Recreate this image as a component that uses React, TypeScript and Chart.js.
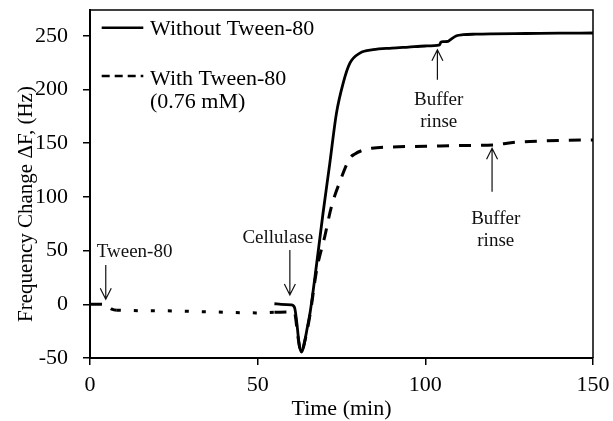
import React, { useEffect, useRef } from "react";
import { Chart, registerables } from "chart.js";

Chart.register(...registerables);

// Series: Without Tween-80 (solid)
const withoutTimes = [55, 57, 60, 61, 61.7, 62.4, 63.1, 63.8, 64.6, 65.6, 67.6, 69.5, 71.5, 73.5, 75.5, 77.5, 80.5, 84.4, 90, 95, 100, 104.3, 104.6, 105.3, 106.8, 107.5, 109.3, 111.3, 115, 120, 130, 140, 150];
const withoutValues = [0.5, 0, -0.5, -3, -18, -38, -44.5, -38, -25, -8.4, 38, 85, 131, 178, 206, 224.5, 233.9, 237, 238.5, 239.5, 240.5, 241.6, 244, 244.6, 244.8, 246.5, 250, 251, 251.5, 251.8, 252.1, 252.4, 252.6];

// Series: With Tween-80 (0.76 mM) (dashed)
const withTimes = [0, 3, 5, 6.5, 8, 20, 35, 50, 55, 60, 61, 62, 63, 64, 65.6, 67.6, 70, 72, 74.5, 77.5, 79, 81, 84, 90, 100, 110, 120.2, 127, 135, 142, 150];
const withValues = [0, 0, -1, -4.5, -5.5, -6, -7, -8, -7.5, -7, -8, -30, -45, -35, -10, 32, 63, 91, 114, 136, 140, 143, 145.3, 146.5, 147.1, 147.8, 148.4, 150.9, 152.1, 152.7, 153];

const xTicks = [0, 50, 100, 150];
const yTicks = [-50, 0, 50, 100, 150, 200, 250];
const seriesNames = ["Without Tween-80", "With Tween-80"];
const seriesNote = "(0.76 mM)";
const xTitle = "Time (min)";
const yTitle = "Frequency Change ΔF, (Hz)";

// Annotations in data coordinates
const annotations = [
  { lines: ["Tween-80"], textX: 13.3, textY: [43.8], arrowX: 4.7, tailY: 36.6, tipY: 4.7 },
  { lines: ["Cellulase"], textX: 56, textY: [56.8], arrowX: 59.6, tailY: 50.6, tipY: 8.7 },
  { lines: ["Buffer", "rinse"], textX: 104, textY: [185.7, 164.9], arrowX: 103.6, tailY: 209, tipY: 237 },
  { lines: ["Buffer", "rinse"], textX: 121, textY: [74.5, 54.3], arrowX: 119.9, tailY: 104.9, tipY: 145.3 },
];

const FONT = '"Liberation Serif", "Times New Roman", serif';

const overlay = {
  id: "overlay",
  afterDraw(chart: any) {
    const { ctx, chartArea: a, scales } = chart;
    const x = scales.x;
    const y = scales.y;
    ctx.save();
    // frame (top & right)
    ctx.strokeStyle = "#000";
    ctx.lineWidth = 1.5;
    ctx.setLineDash([]);
    ctx.beginPath();
    ctx.moveTo(a.left, a.top);
    ctx.lineTo(a.right, a.top);
    ctx.lineTo(a.right, a.bottom);
    ctx.stroke();

    // annotations
    ctx.fillStyle = "#111";
    ctx.font = `19px ${FONT}`;
    ctx.textAlign = "center";
    ctx.textBaseline = "alphabetic";
    for (const an of annotations) {
      an.lines.forEach((t, i) => {
        ctx.fillText(t, x.getPixelForValue(an.textX), y.getPixelForValue(an.textY[i]));
      });
      const ax = x.getPixelForValue(an.arrowX);
      const ty = y.getPixelForValue(an.tailY);
      const py = y.getPixelForValue(an.tipY);
      const dir = Math.sign(py - ty);
      ctx.lineWidth = 1.2;
      ctx.strokeStyle = "#111";
      ctx.beginPath();
      ctx.moveTo(ax, ty);
      ctx.lineTo(ax, py);
      ctx.moveTo(ax - 5.5, py - dir * 11);
      ctx.lineTo(ax, py);
      ctx.lineTo(ax + 5.5, py - dir * 11);
      ctx.stroke();
    }

    // legend
    const lx0 = a.left + 11.7;
    const lx1 = a.left + 53.3;
    ctx.strokeStyle = "#000";
    ctx.lineWidth = 2.5;
    ctx.beginPath();
    ctx.moveTo(lx0, a.top + 17.7);
    ctx.lineTo(lx1, a.top + 17.7);
    ctx.stroke();
    ctx.setLineDash([8, 5]);
    ctx.beginPath();
    ctx.moveTo(lx0, a.top + 66);
    ctx.lineTo(lx1, a.top + 66);
    ctx.stroke();
    ctx.setLineDash([]);
    ctx.fillStyle = "#000";
    ctx.font = `22px ${FONT}`;
    ctx.textAlign = "left";
    ctx.fillText(seriesNames[0], a.left + 60, a.top + 25);
    ctx.fillText(seriesNames[1], a.left + 60, a.top + 75);
    ctx.fillText(seriesNote, a.left + 60, a.top + 98.3);

    // axis titles
    ctx.textAlign = "center";
    ctx.fillText(xTitle, (a.left + a.right) / 2, chart.height - 6);
    ctx.font = `21px ${FONT}`;
    ctx.save();
    ctx.translate(32, 204);
    ctx.rotate(-Math.PI / 2);
    ctx.fillText(yTitle, 0, 0);
    ctx.restore();
    ctx.restore();
  },
};

const zeroPad = (s: any) => {
  s.paddingTop = 0;
  s.paddingBottom = 0;
  s.paddingLeft = 0;
  s.paddingRight = 0;
};

export default function App() {
  const ref = useRef<HTMLCanvasElement | null>(null);
  useEffect(() => {
    if (!ref.current) return;
    const tickFont = { family: FONT, size: 22 };
    const chart = new Chart(ref.current, {
      type: "scatter",
      data: {
        datasets: [
          {
            label: seriesNames[0],
            data: withoutTimes.map((t, i) => ({ x: t, y: withoutValues[i] })),
            showLine: true,
            borderColor: "#000",
            backgroundColor: "#000",
            borderWidth: 2.8,
            pointRadius: 0,
            cubicInterpolationMode: "monotone",
          },
          {
            label: seriesNames[1],
            data: withTimes.map((t, i) => ({ x: t, y: withValues[i] })),
            showLine: true,
            borderColor: "#000",
            backgroundColor: "#000",
            borderWidth: 3,
            borderDash: [12, 10],
            pointRadius: 0,
            cubicInterpolationMode: "monotone",
            segment: {
              borderDash: (c: any) =>
                c.p0.parsed.x >= 8 && c.p1.parsed.x <= 55 ? [4, 13] : undefined,
            },
          },
        ],
      },
      options: {
        animation: false,
        responsive: false,
        layout: { padding: { left: 0, right: 20, top: 10, bottom: 0 } },
        plugins: { legend: { display: false }, tooltip: { enabled: false } },
        scales: {
          x: {
            type: "linear",
            min: 0,
            max: 150,
            afterBuildTicks: (s: any) => {
              s.ticks = xTicks.map((v) => ({ value: v }));
            },
            afterFit: (s: any) => {
              s.height = 63;
              zeroPad(s);
            },
            grid: { display: true, drawOnChartArea: false, drawTicks: true, tickLength: 7, color: "#000", lineWidth: 1.5 },
            border: { display: true, color: "#000", width: 2 },
            ticks: { font: tickFont, color: "#000", padding: 7, maxRotation: 0 },
          },
          y: {
            type: "linear",
            min: -50,
            max: 274,
            afterBuildTicks: (s: any) => {
              s.ticks = yTicks.map((v) => ({ value: v }));
            },
            afterFit: (s: any) => {
              s.width = 90;
              zeroPad(s);
            },
            grid: { display: true, drawOnChartArea: false, drawTicks: true, tickLength: 7, color: "#000", lineWidth: 1.5 },
            border: { display: true, color: "#000", width: 2 },
            ticks: { font: tickFont, color: "#000", padding: 15 },
          },
        },
      },
      plugins: [overlay],
    });
    return () => chart.destroy();
  }, []);
  return (
    <div style={{ position: "fixed", left: 0, top: 0, width: 613, height: 421, background: "#fff" }}>
      <canvas ref={ref} width={613} height={421} />
    </div>
  );
}
